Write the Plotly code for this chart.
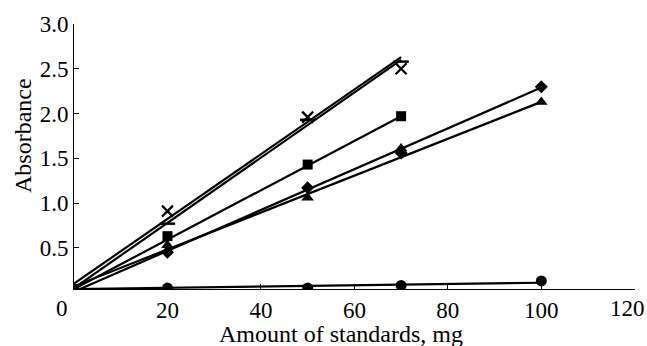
import plotly.graph_objects as go

# Measured points
cross_x = [20, 50, 70]
cross_y = [0.91, 1.96, 2.50]
dash_x = [20, 50, 70]
dash_y = [0.77, 1.93, 2.58]
square_x = [0, 20, 50, 70]
square_y = [0.04, 0.63, 1.43, 1.97]
diamond_x = [20, 50, 70, 100]
diamond_y = [0.45, 1.17, 1.56, 2.30]
triangle_x = [20, 50, 70, 100]
triangle_y = [0.53, 1.06, 1.61, 2.13]
circle_x = [20, 50, 70, 100]
circle_y = [0.05, 0.05, 0.08, 0.13]

# Calibration (fit) lines: endpoints
cross_fit_x = [0, 70]
cross_fit_y = [0.10, 2.63]
dash_fit_x = [0, 70]
dash_fit_y = [0.05, 2.60]
square_fit_x = [0, 70]
square_fit_y = [0.04, 1.97]
diamond_fit_x = [0, 100]
diamond_fit_y = [0.01, 2.29]
triangle_fit_x = [0, 100]
triangle_fit_y = [0.07, 2.13]
circle_fit_x = [0, 100]
circle_fit_y = [0.04, 0.11]

x_ticks = [20, 40, 60, 80, 100, 120]
x_labels = ["20", "40", "60", "80", "100", ""]
y_ticks = [0.5, 1.0, 1.5, 2.0, 2.5, 3.0]
y_labels = ["0.5", "1.0", "1.5", "2.0", "2.5", "3.0"]

fig = go.Figure()
lw = 2.2
for fx, fy in [(cross_fit_x, cross_fit_y), (dash_fit_x, dash_fit_y),
               (square_fit_x, square_fit_y), (diamond_fit_x, diamond_fit_y),
               (triangle_fit_x, triangle_fit_y), (circle_fit_x, circle_fit_y)]:
    fig.add_trace(go.Scatter(x=fx, y=fy, mode="lines",
                             line=dict(color="black", width=lw),
                             showlegend=False, hoverinfo="skip"))

def mk(x, y, symbol, size, lwid=0):
    fig.add_trace(go.Scatter(x=x, y=y, mode="markers",
                             marker=dict(symbol=symbol, size=size, color="black",
                                         line=dict(color="black", width=lwid)),
                             showlegend=False))

mk(cross_x, cross_y, "x-thin", 11, 2.2)
mk(dash_x, dash_y, "line-ew", 11, 2.5)
mk(square_x, square_y, "square", 10)
mk(diamond_x, diamond_y, "diamond", 10)
mk(triangle_x, triangle_y, "triangle-up", 11)
mk(circle_x, circle_y, "circle", 11)

font = "Liberation Serif, Times New Roman, serif"
fs = 23
W, H = 647, 346
l, r, t, b = 74, 12, 24, 57
fig.update_layout(
    width=W, height=H,
    margin=dict(l=l, r=r, t=t, b=b),
    plot_bgcolor="white", paper_bgcolor="white",
    font=dict(family=font, size=fs, color="black"),
    xaxis=dict(range=[0, 120.05], tickvals=x_ticks, ticktext=x_labels,
               ticks="inside", ticklen=5,
               tickwidth=1, tickcolor="black", showline=True, linecolor="black",
               linewidth=1, showgrid=False, zeroline=False,
               tickfont=dict(family=font, size=fs)),
    yaxis=dict(range=[0.04, 3.0], tickvals=y_ticks, ticktext=y_labels,
               ticks="inside", ticklen=5, tickwidth=1, tickcolor="black",
               showline=True, linecolor="black", linewidth=1, showgrid=False,
               zeroline=False, tickfont=dict(family=font, size=fs)),
)

pw, ph = W - l - r, H - t - b
def ann(text, px, py, angle=0, size=fs):
    fig.add_annotation(text=text, x=(px - l) / pw, y=(H - b - py) / ph,
                       xref="paper", yref="paper", xanchor="center", yanchor="middle",
                       showarrow=False, textangle=angle, borderpad=0,
                       font=dict(family=font, size=size))

ann("0", 62, 308)
ann("120", 627, 308)
ann("Amount of standards, mg", 341, 333.5, size=24)
ann("Absorbance", 23, 136, -90, size=24)

fig.write_html("out.html", config={"displayModeBar": False},
               post_script="document.body.style.margin='0';document.body.style.padding='0';"
                           "document.body.style.overflow='hidden';"
                           "document.documentElement.style.overflow='hidden';")
